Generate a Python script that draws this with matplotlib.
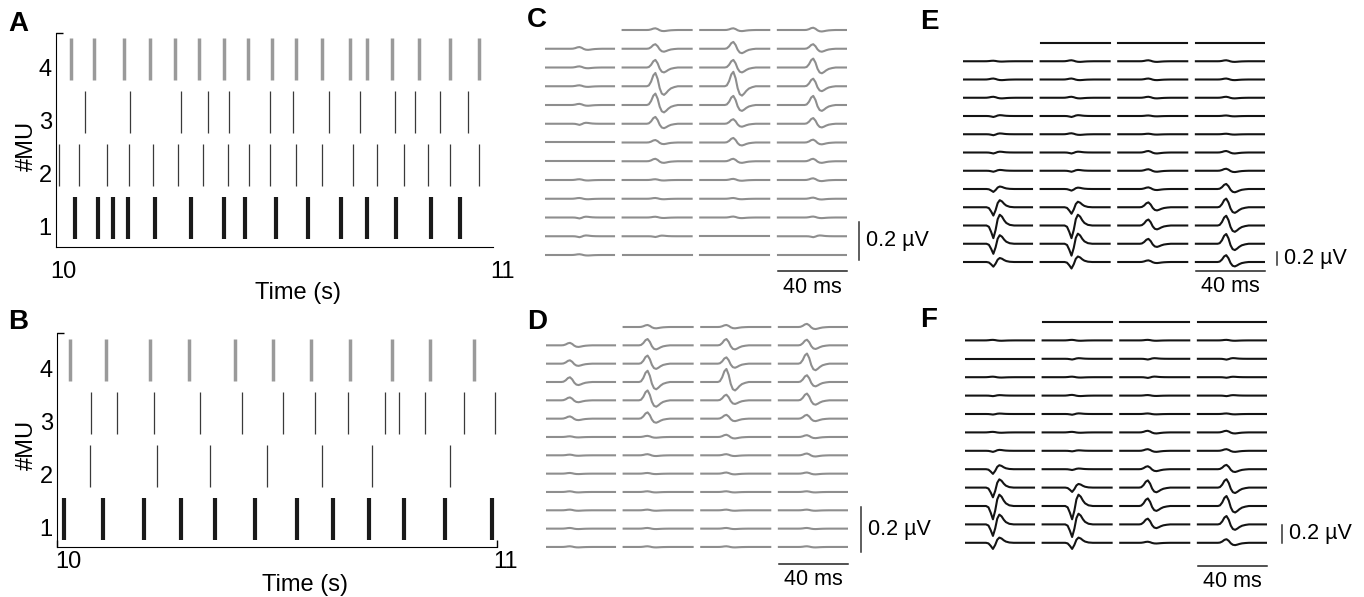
import numpy as np
import matplotlib.pyplot as plt

plt.rcParams['font.family'] = ['Liberation Sans', 'DejaVu Sans']

# ---- raster data (spike times, s) ----
mu_names = ['1', '2', '3', '4']

a_mu1 = [10.027, 10.078, 10.113, 10.147, 10.208, 10.290, 10.366, 10.414, 10.484,
         10.557, 10.633, 10.692, 10.758, 10.837, 10.903]
a_mu2 = [9.989, 10.035, 10.100, 10.149, 10.205, 10.262, 10.319, 10.376, 10.422,
         10.471, 10.529, 10.589, 10.659, 10.715, 10.776, 10.831, 10.881, 10.947]
a_mu3 = [10.049, 10.152, 10.267, 10.329, 10.377, 10.471, 10.523, 10.605, 10.677,
         10.755, 10.802, 10.858, 10.922]
a_mu4 = [10.017, 10.070, 10.137, 10.197, 10.255, 10.310, 10.367, 10.420, 10.475,
         10.529, 10.589, 10.652, 10.692, 10.748, 10.810, 10.882, 10.947]

b_mu1 = [9.989, 10.078, 10.173, 10.256, 10.334, 10.427, 10.523, 10.605, 10.687,
         10.767, 10.863, 10.969]
b_mu2 = [10.048, 10.202, 10.323, 10.455, 10.579, 10.695, 10.873]
b_mu3 = [10.051, 10.111, 10.195, 10.301, 10.397, 10.491, 10.563, 10.639, 10.724,
         10.756, 10.815, 10.906, 10.977]
b_mu4 = [10.002, 10.086, 10.186, 10.276, 10.381, 10.468, 10.556, 10.644, 10.740,
         10.828, 10.929]

# ---- MUAP templates (ms relative to main phase, normalised amplitude) ----
up_t = [-5, -3.8, -2.5, -1.2, 0, 1.3, 2.5, 3.7, 5, 6.3, 7.5, 9, 11, 13]
up_v = [0, 0.06, 0.35, 0.82, 1.0, 0.55, -0.15, -0.55, -0.65, -0.5, -0.32, -0.16, -0.06, 0]
dn_t = [-4, -2.6, -1.3, 0, 1.3, 2.5, 3.7, 5, 6.3, 7.5, 9.5, 12]
dn_v = [0, -0.1, -0.5, -1.0, -0.35, 0.5, 0.85, 0.7, 0.4, 0.2, 0.05, 0]

# peak amplitude per channel (uV), 13 rows x 4 columns; sign = polarity
amp_c = [[np.nan, 0.009, 0.009, 0.012],
         [0.009, 0.024, 0.036, 0.024],
         [0.006, 0.040, 0.040, 0.047],
         [0.005, 0.070, 0.076, 0.040],
         [0.006, 0.060, 0.048, 0.048],
         [-0.006, 0.036, 0.024, 0.030],
         [0.0, 0.013, 0.024, 0.015],
         [0.0, 0.013, 0.013, 0.013],
         [0.004, 0.004, 0.006, 0.009],
         [0.004, 0.004, 0.004, 0.006],
         [-0.005, 0.004, 0.005, 0.005],
         [-0.005, -0.004, 0.0, -0.005],
         [0.004, 0.0, 0.0, 0.0]]
amp_d = [[np.nan, 0.009, 0.009, 0.014],
         [0.011, 0.028, 0.028, 0.025],
         [0.015, 0.036, 0.028, 0.045],
         [0.021, 0.050, 0.058, 0.030],
         [0.013, 0.044, 0.025, 0.030],
         [0.010, 0.028, 0.017, 0.017],
         [0.003, 0.005, 0.010, 0.008],
         [0.003, 0.005, 0.005, 0.008],
         [0.003, 0.003, 0.005, 0.005],
         [0.003, 0.003, 0.003, 0.003],
         [0.003, 0.003, 0.003, 0.003],
         [0.003, 0.003, 0.003, 0.003],
         [0.003, 0.003, 0.003, 0.003]]
amp_e = [[np.nan, 0.0, 0.0, 0.0],
         [0.008, 0.015, 0.015, 0.015],
         [0.015, 0.015, 0.015, 0.015],
         [0.015, 0.015, 0.015, 0.015],
         [-0.015, -0.015, 0.008, 0.008],
         [-0.015, 0.015, 0.008, 0.008],
         [-0.015, -0.015, 0.023, 0.023],
         [-0.015, -0.015, 0.023, 0.031],
         [-0.045, -0.025, 0.025, 0.078],
         [-0.128, -0.100, 0.075, 0.133],
         [-0.195, -0.195, 0.092, 0.150],
         [-0.155, -0.183, 0.075, 0.150],
         [-0.072, -0.100, 0.025, 0.105]]
amp_f = [[np.nan, 0.0, 0.0, 0.0],
         [0.006, 0.006, 0.006, 0.006],
         [0.0, -0.008, -0.008, -0.009],
         [0.006, 0.006, -0.008, -0.006],
         [-0.006, 0.008, 0.006, -0.006],
         [-0.006, -0.008, 0.006, 0.006],
         [0.006, 0.006, 0.018, 0.018],
         [-0.012, -0.006, 0.018, 0.018],
         [-0.052, -0.009, 0.033, 0.048],
         [-0.108, -0.048, 0.080, 0.093],
         [-0.148, -0.148, 0.084, 0.111],
         [-0.128, -0.140, 0.064, 0.093],
         [-0.068, -0.068, 0.012, 0.040]]

# latency of the main phase per column (ms within the 40 ms window)
lat_c = [20.0, 19.0, 19.2, 20.5]
lat_d = [13.9, 13.9, 14.6, 16.3]
lat_e = [17.6, 17.9, 17.5, 17.6]
lat_f = [16.2, 17.1, 16.0, 16.6]

W, H = 1364, 597
fig = plt.figure(figsize=(W / 100, H / 100), dpi=100)


def px_axes(l, t, r, b):
    return fig.add_axes([l / W, 1 - b / H, (r - l) / W, (b - t) / H])


def raster(box, xlim, ylim, trains, lab_dy, end_ticks):
    ax = px_axes(*box)
    ax.eventplot(trains, lineoffsets=[1, 2, 3, 4], linelengths=0.79,
                 linewidths=[3.0, 0.9, 0.9, 2.5],
                 colors=['#1a1a1a', '#3a3a3a', '#3a3a3a', '#9a9a9a'])
    ax.set_xlim(*xlim)
    ax.set_ylim(*ylim)
    ax.spines[['top', 'right']].set_visible(False)
    ax.set_yticks(np.arange(1, 5) - 0.16, mu_names)
    ax.set_xticks([])
    ax.tick_params(length=0, labelsize=17)
    ax.tick_params(axis='y', pad=3)
    ax.set_yticks([ylim[1]], minor=True)
    ax.tick_params(axis='y', which='minor', direction='in', length=5, width=1)
    if end_ticks:
        ax.set_xticks([xlim[0], xlim[1]], minor=True)
        ax.tick_params(axis='x', which='minor', direction='in', length=5, width=1)
    hgt = box[3] - box[1]
    for xv in [10, 11]:
        ax.text(xv, -lab_dy / hgt, str(xv), transform=ax.get_xaxis_transform(),
                ha='center', va='center', fontsize=17, clip_on=False)
    return ax


raster((56, 33, 493, 247), (9.983, 10.979), (0.455, 4.48),
       [a_mu1, a_mu2, a_mu3, a_mu4], 25, False)
raster((57, 333, 497, 547), (9.973, 10.981), (0.47, 4.51),
       [b_mu1, b_mu2, b_mu3, b_mu4], 15, True)

fig.text(298, H - 293, 'Time (s)', transform=None, ha='center', va='center', fontsize=17)
fig.text(305, H - 585, 'Time (s)', transform=None, ha='center', va='center', fontsize=17)
fig.text(27, H - 146, '#MU', transform=None, ha='center', va='center', fontsize=17, rotation=90)
fig.text(27, H - 445, '#MU', transform=None, ha='center', va='center', fontsize=17, rotation=90)


def grid_panel(x0, y0, sp_px, pxuv, amps, lats, color, vx, vb, hb, tb):
    pxms = 69 / 40
    amps = np.array(amps, dtype=float)
    nrow, ncol = amps.shape
    sp = sp_px / pxuv
    bottom = (nrow - 1) * sp_px + 50
    ax = px_axes(x0, y0 - 20, x0 + 175 * pxms, y0 + bottom)
    ax.set_xlim(0, 175)
    ax.set_ylim(-bottom / pxuv, 20 / pxuv)
    ax.axis('off')
    for r in range(nrow):
        for c in range(ncol):
            a = amps[r, c]
            if np.isnan(a):
                continue
            t, v = (up_t, up_v) if a >= 0 else (dn_t, dn_v)
            x = c * 45 + np.concatenate([[0], lats[c] + np.array(t), [40]])
            y = -r * sp + np.concatenate([[0], abs(a) * np.array(v), [0]])
            ax.plot(x, y, color=color, lw=1.5, solid_joinstyle='round')
    last = -(nrow - 1) * sp
    vb0 = last - vb / pxuv
    ax.plot([vx, vx], [vb0, vb0 + 0.2], color='#333333', lw=1.1, clip_on=False)
    ax.text(vx + 7 / pxms, vb0 + 0.1, '0.2 µV', ha='left', va='center', fontsize=15.5)
    hy = last - hb / pxuv
    ax.plot([135, 175], [hy, hy], color='#222222', lw=1.1, clip_on=False)
    ax.text(155, last - tb / pxuv, '40 ms', ha='center', va='center', fontsize=15.5)


gray = '#8e8e8e'
black = '#141414'
grid_panel(545, 30, 18.75, 190, amp_c, lat_c, gray, 182, 5, 16, 33)
grid_panel(546, 327, 18.33, 225, amp_d, lat_d, gray, 182.6, 5, 17, 33)
grid_panel(963, 43, 18.25, 65, amp_e, lat_e, black, 182, 3, 9, 25)
grid_panel(965, 322, 18.4, 90, amp_f, lat_f, black, 184, 0, 23, 39)

for lab, x, y in [('A', 18, 24), ('B', 18, 322), ('C', 537, 20),
                  ('D', 537, 322), ('E', 929, 22), ('F', 929, 320)]:
    fig.text(x, H - y, lab, transform=None, ha='center', va='center',
             fontsize=20, fontweight='bold')

fig.savefig('out.png', dpi=100)
